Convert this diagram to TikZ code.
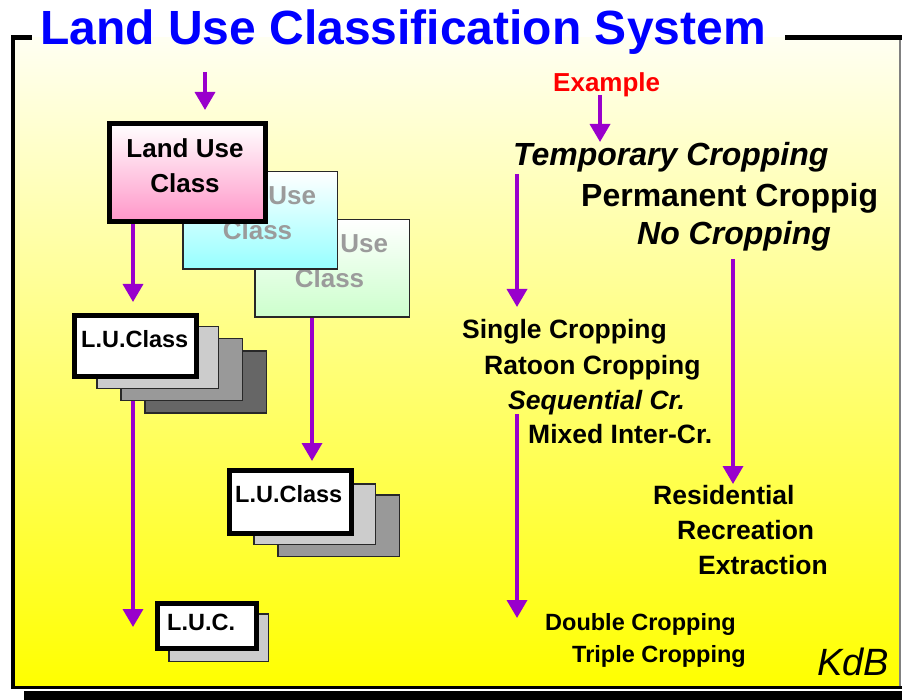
\documentclass[tikz,border=0pt]{standalone}
\usepackage{fontspec}
\setmainfont{Liberation Sans}
\usetikzlibrary{arrows.meta,calc}
\pgfdeclarelayer{bg}
\pgfdeclarelayer{arrowlayer}
\pgfsetlayers{bg,arrowlayer,main}
\definecolor{arrowpurple}{RGB}{153,0,204}
\definecolor{titleblue}{RGB}{0,0,255}
\definecolor{exred}{RGB}{255,0,0}
\definecolor{pinkb}{RGB}{255,150,200}
\definecolor{cyanb}{RGB}{150,255,255}
\definecolor{greenb}{RGB}{204,255,204}
\definecolor{bgtop}{RGB}{255,255,242}
\definecolor{bgbot}{RGB}{255,255,0}
\definecolor{ghost}{RGB}{155,155,155}
\definecolor{edgec}{RGB}{40,40,40}
\definecolor{gLight}{RGB}{204,204,204}
\definecolor{gMid}{RGB}{153,153,153}
\definecolor{gDark}{RGB}{102,102,102}
\newcommand{\fsz}[1]{\fontsize{#1}{#1}\selectfont}
\begin{document}
\begin{tikzpicture}[x=1pt,y=-1pt,
  arr/.style={draw=arrowpurple, line width=3.5pt, -{Triangle[width=20pt,length=18pt]}},
  mainbox/.style={draw=black, line width=5pt, inner sep=0pt, fill=white},
  backbox/.style={draw=edgec, line width=1.5pt, inner sep=0pt},
  boxtxt/.style={anchor=base, inner sep=0pt, font=\bfseries\fsz{26}},
  ghosttxt/.style={boxtxt, text=ghost},
  lutxt/.style={anchor=base west, inner sep=0pt, font=\bfseries\fsz{23.5}},
  item/.style={anchor=base west, inner sep=0pt, font=\bfseries\fsz{26.5}},
  itemi/.style={item, font=\bfseries\itshape\fsz{26.5}},
  big/.style={anchor=base west, inner sep=0pt, font=\bfseries\fsz{32}},
  bigi/.style={big, font=\bfseries\itshape\fsz{32}},
  small/.style={anchor=base west, inner sep=0pt, font=\bfseries\fsz{23.5}}
]
\useasboundingbox (0,0) rectangle (902,700);

% frame
\begin{pgfonlayer}{bg}
  \shade[top color=bgtop, bottom color=bgbot] (13,38) rectangle (900,687);
  \fill[black] (24,691) rectangle (902,700);
  \draw[gray, line width=1.5pt] (900,38) -- (900,687);
  \draw[black, line width=3pt] (11,687) -- (902,687);
  \draw[black, line width=4pt] (13,36) -- (13,689);
  \draw[black, line width=5pt] (11,38) -- (32,38);
  \draw[black, line width=5pt] (785,38) -- (902,38);
\end{pgfonlayer}

\node[anchor=base west, inner sep=0pt, text=titleblue, font=\bfseries\fsz{48}] (title) at (40,45) {Land Use Classification System};

% big class boxes
\node[backbox, top color=white, bottom color=greenb, minimum width=154.5pt, minimum height=97.5pt] (green) at (332,268.5) {};
\node[ghosttxt] (greenA) at (329.5,253) {Land Use};
\node[ghosttxt] (greenB) at (329.5,288) {Class};
\node[backbox, top color=white, bottom color=cyanb, minimum width=154.5pt, minimum height=97.5pt] (cyanbox) at (260,220.5) {};
\node[ghosttxt] (cyanA) at (257.5,205) {Land Use};
\node[ghosttxt] (cyanB) at (257.5,240) {Class};
\node[mainbox, top color=white, bottom color=pinkb, minimum width=156pt, minimum height=98pt] (pink) at (187.5,172.5) {};
\node[boxtxt] (pinkA) at (185,158) {Land Use};
\node[boxtxt] (pinkB) at (185,193) {Class};

% stack 1
\node[backbox, fill=gDark, minimum width=121.5pt, minimum height=61.5pt] (lu1c) at (205.5,382) {};
\node[backbox, fill=gMid, minimum width=121.5pt, minimum height=61.5pt] (lu1b) at (181.5,369.5) {};
\node[backbox, fill=gLight, minimum width=121.5pt, minimum height=61.5pt] (lu1a) at (157.5,357.5) {};
\node[mainbox, minimum width=122pt, minimum height=61pt] (lu1) at (135.5,346) {};
\node[lutxt] (lu1t) at (81,348) {L.U.Class};

% stack 2
\node[backbox, fill=gMid, minimum width=121.5pt, minimum height=61.5pt] (lu2b) at (338.5,525.5) {};
\node[backbox, fill=gLight, minimum width=121.5pt, minimum height=60.5pt] (lu2a) at (314.5,514) {};
\node[mainbox, minimum width=122pt, minimum height=63pt] (lu2) at (290.5,502) {};
\node[lutxt] (lu2t) at (235,502) {L.U.Class};

% L.U.C.
\node[backbox, fill=gLight, minimum width=99.5pt, minimum height=47.5pt] (luca) at (218.5,637.5) {};
\node[mainbox, minimum width=99pt, minimum height=45pt] (luc) at (207,626) {};
\node[lutxt] (luct) at (167,630) {L.U.C.};

% right side
\node[anchor=base west, inner sep=0pt, text=exred, font=\bfseries\fsz{26}] (example) at (553,92) {Example};
\node[bigi] (temp) at (513,166) {Temporary Cropping};
\node[big] (perm) at (581,207) {Permanent Croppig};
\node[bigi] (nocrop) at (637,245) {No Cropping};
\node[item] (single) at (462,339) {Single Cropping};
\node[item] (ratoon) at (484,374) {Ratoon Cropping};
\node[itemi] (seq) at (508,409) {Sequential Cr.};
\node[item] (mixed) at (528,443) {Mixed Inter-Cr.};
\node[item] (resid) at (653,504) {Residential};
\node[item] (recre) at (677,539) {Recreation};
\node[item] (extra) at (698,574) {Extraction};
\node[small] (double) at (545,630) {Double Cropping};
\node[small] (triple) at (572,662) {Triple Cropping};
\node[anchor=base west, inner sep=0pt, font=\itshape\fsz{38}] (kdb) at (817,675) {KdB};

\coordinate (in1) at (205,72);

\begin{pgfonlayer}{arrowlayer}
  \draw[arr] (in1) -- ($(pink.north west)+(98,-11)$);
  \draw[arr] ($(pink.south west)+(26,0)$) -- ($(lu1.north west)+(61,-11)$);
  \draw[arr] ($(lu1.south west)+(61,0)$) -- ($(luc.west)+(-22,1)$);
  \draw[arr] ($(green.south west)+(58,0)$) -- ($(lu2.north west)+(85,-7)$);
  \draw[arr] ($(example.base west)+(47,3)$) -- ($(temp.base west)+(87,-24)$);
  \draw[arr] ($(temp.base west)+(4,8)$) -- ($(single.base west)+(55,-32)$);
  \draw[arr] ($(nocrop.base west)+(96,14)$) -- ($(resid.base west)+(80,-20)$);
  \draw[arr] ($(seq.base west)+(9,5)$) -- ($(double.base west)+(-28,-12)$);
\end{pgfonlayer}
\end{tikzpicture}
\end{document}
